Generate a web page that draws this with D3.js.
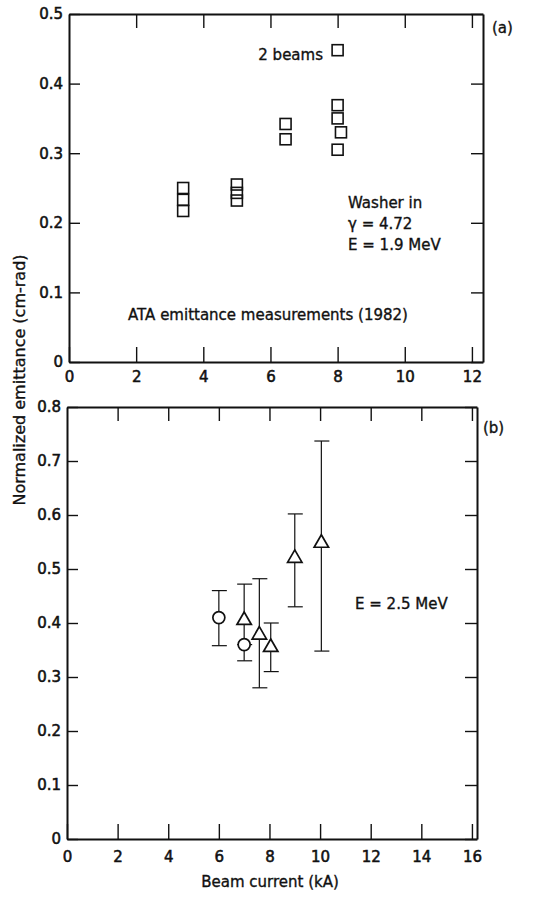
<!DOCTYPE html>
<html><head><meta charset="utf-8">
<script src="https://cdn.jsdelivr.net/npm/d3@7"></script>
<style>
body{margin:0;background:#fff;}
svg{display:block;font-family:"DejaVu Sans","Liberation Sans",Arial,sans-serif;}
</style></head><body>
<svg id="c" width="555" height="898"></svg>
<script>
// Panel (a) data
const aX = [3.4,3.4,3.4,5.0,5.0,5.0,6.45,6.45,8.0,8.0,8.0,8.1,8.0];
const aY = [0.25,0.233,0.217,0.255,0.243,0.232,0.342,0.32,0.448,0.369,0.35,0.33,0.305];
const aXTicks = [0,2,4,6,8,10,12];
const aYTicks = [0,0.1,0.2,0.3,0.4,0.5];
// Panel (b) data
const bCircX = [6.0,7.0];
const bCircY = [0.41,0.36];
const bCircLo = [0.358,0.33];
const bCircHi = [0.46,0.36];
const bTriX = [7.0,7.6,8.05,9.0,10.05];
const bTriY = [0.405,0.378,0.355,0.52,0.548];
const bTriLo = [0.36,0.28,0.31,0.43,0.348];
const bTriHi = [0.472,0.482,0.40,0.602,0.737];
const bXTicks = [0,2,4,6,8,10,12,14,16];
const bYTicks = [0,0.1,0.2,0.3,0.4,0.5,0.6,0.7,0.8];

const svg = d3.select("#c");
const fmtY = d => d===0 ? "0" : d3.format(".1f")(d);
const INK = "#111";

function label(sel){
  return sel.attr("font-size",15).attr("fill",INK).attr("stroke",INK).attr("stroke-width",0.35);
}

function frame(x, y, xt, yt, topTicks, xPad, yPad){
  const [x0,x1] = x.range(), [y0,y1] = y.range();
  const g = svg.append("g");
  g.append("g").attr("transform",`translate(0,${y0})`)
    .call(d3.axisBottom(x).tickValues(xt).tickSizeInner(-15).tickSizeOuter(0).tickPadding(xPad).tickFormat(d3.format("d")));
  g.append("g").attr("transform",`translate(0,${y1})`)
    .call(d3.axisTop(x).tickValues(topTicks).tickSizeInner(-14).tickSizeOuter(0).tickFormat(""));
  g.append("g").attr("transform",`translate(${x0},0)`)
    .call(d3.axisLeft(y).tickValues(yt).tickSizeInner(-11).tickSizeOuter(0).tickPadding(yPad).tickFormat(fmtY));
  g.append("g").attr("transform",`translate(${x1},0)`)
    .call(d3.axisRight(y).tickValues(yt).tickSizeInner(-12).tickSizeOuter(0).tickFormat(""));
  g.selectAll(".domain").attr("stroke",INK).attr("stroke-width",2);
  g.selectAll(".tick line").attr("stroke",INK).attr("stroke-width",1.4);
  g.selectAll(".tick text").attr("font-family","DejaVu Sans").attr("font-size",15)
    .attr("fill",INK).attr("stroke",INK).attr("stroke-width",0.55);
  return g;
}

// ---------- Panel (a)
const xa = d3.scaleLinear().domain([0,12.33]).range([69,483]);
const ya = d3.scaleLinear().domain([0,0.5]).range([362,14]);
frame(xa, ya, aXTicks, aYTicks, [2,4,6,8,10,12], 9, 6);

const sq = 11;
svg.append("g").selectAll("rect").data(aX.map((v,i)=>[v,aY[i]])).join("rect")
  .attr("x",d=>xa(d[0])-sq/2).attr("y",d=>ya(d[1])-sq/2)
  .attr("width",sq).attr("height",sq)
  .attr("fill","none").attr("stroke",INK).attr("stroke-width",1.6);

label(svg.append("text").attr("x",323).attr("y",60).attr("text-anchor","end")).text("2 beams");
label(svg.append("text").attr("x",492).attr("y",33)).text("(a)");
const wt = label(svg.append("text"));
["Washer in","γ = 4.72","E = 1.9 MeV"].forEach((t,i)=>{
  wt.append("tspan").attr("x",348).attr("y",208+i*21).text(t);
});
label(svg.append("text").attr("x",268).attr("y",320).attr("text-anchor","middle"))
  .text("ATA emittance measurements (1982)");

// ---------- Panel (b)
const xb = d3.scaleLinear().domain([0,16.2]).range([67,477]);
const yb = d3.scaleLinear().domain([0,0.8]).range([839,407]);
frame(xb, yb, bXTicks, bYTicks, [2,4,6,8,10,12,14,16], 12, 6);

function errBars(xs, ys, lo, hi){
  const g = svg.append("g").attr("stroke",INK).attr("stroke-width",1.2);
  xs.forEach((x,i)=>{
    const px = xb(x);
    g.append("line").attr("x1",px).attr("x2",px).attr("y1",yb(lo[i])).attr("y2",yb(hi[i]));
    if(hi[i] > ys[i]) g.append("line").attr("x1",px-7).attr("x2",px+8).attr("y1",yb(hi[i])).attr("y2",yb(hi[i]));
    if(lo[i] < ys[i]) g.append("line").attr("x1",px-7).attr("x2",px+8).attr("y1",yb(lo[i])).attr("y2",yb(lo[i]));
  });
}
errBars(bCircX,bCircY,bCircLo,bCircHi);
errBars(bTriX,bTriY,bTriLo,bTriHi);

svg.append("g").selectAll("circle").data(bCircX.map((v,i)=>[v,bCircY[i]])).join("circle")
  .attr("cx",d=>xb(d[0])).attr("cy",d=>yb(d[1])).attr("r",6)
  .attr("fill","#fff").attr("stroke",INK).attr("stroke-width",1.7);
const tri = d3.symbol().type(d3.symbolTriangle).size(90);
svg.append("g").selectAll("path").data(bTriX.map((v,i)=>[v,bTriY[i]])).join("path")
  .attr("d",tri).attr("transform",d=>`translate(${xb(d[0])},${yb(d[1])})`)
  .attr("fill","#fff").attr("stroke",INK).attr("stroke-width",1.7);

label(svg.append("text").attr("x",355).attr("y",609)).text("E = 2.5 MeV");
label(svg.append("text").attr("x",483).attr("y",433)).text("(b)");

label(svg.append("text").attr("x",270).attr("y",887).attr("text-anchor","middle"))
  .text("Beam current (kA)");
label(svg.append("text").attr("transform","translate(25,380) rotate(-90)").attr("text-anchor","middle"))
  .attr("font-size",16).text("Normalized emittance (cm-rad)");
</script></body></html>
